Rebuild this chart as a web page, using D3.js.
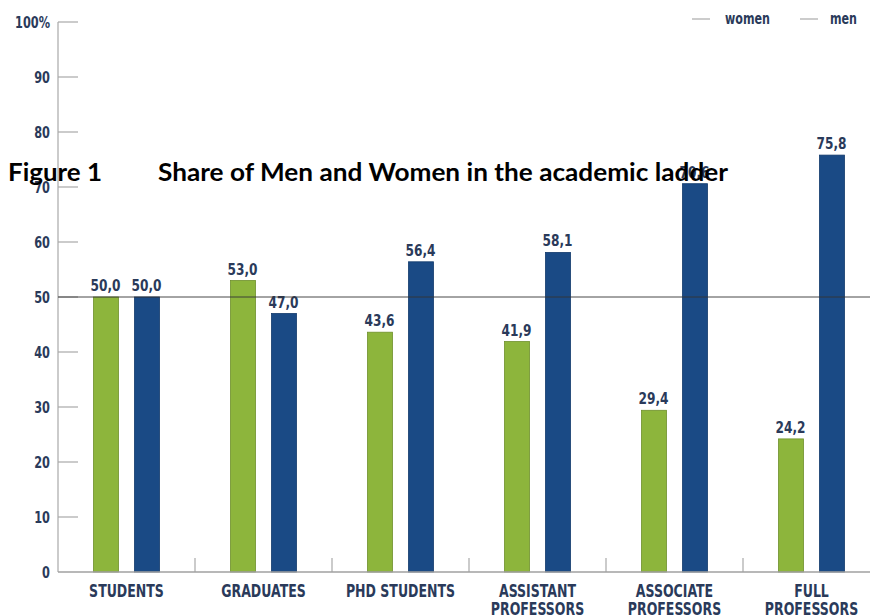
<!DOCTYPE html>
<html>
<head>
<meta charset="utf-8">
<script src="https://cdn.jsdelivr.net/npm/d3@7"></script>
<style>
  html, body { margin: 0; padding: 0; background: #fff; }
  svg { display: block; }
  .lbl { font-family: "Liberation Sans Narrow", "DejaVu Sans Condensed", "Roboto", sans-serif; font-weight: bold; fill: #2a3a5a; }
</style>
</head>
<body>
<svg id="chart" width="870" height="616"></svg>
<script>
const categories = ["STUDENTS", "GRADUATES", "PHD STUDENTS", "ASSISTANT\nPROFESSORS", "ASSOCIATE\nPROFESSORS", "FULL\nPROFESSORS"];
const women = [50.0, 53.0, 43.6, 41.9, 29.4, 24.2];
const men = [50.0, 47.0, 56.4, 58.1, 70.6, 75.8];
const yTicks = [0, 10, 20, 30, 40, 50, 60, 70, 80, 90, 100];
const seriesNames = ["women", "men"];
const colors = { women: "#8db53c", men: "#1a4a85" };
const strokes = { women: "#6e8f2b", men: "#123a6c" };
const titleLeft = "Figure 1";
const titleMain = "Share of Men and Women in the academic ladder";

const svg = d3.select("#chart");
const x0 = 58, yTop = 22, yBot = 572;
const squeeze = 0.84;

const x = d3.scaleBand().domain(d3.range(categories.length)).range([x0, x0 + 137 * 6]).paddingInner(0).paddingOuter(0);
const y = d3.scaleLinear().domain([0, 100]).range([yBot, yTop]);
const fmt = v => d3.format(".1f")(v).replace(".", ",");

// y axis line
svg.append("line").attr("x1", x0).attr("x2", x0).attr("y1", y(100)).attr("y2", y(0))
  .attr("stroke", "#a8a8a8").attr("stroke-width", 1.2);
// y ticks
yTicks.forEach(t => {
  if (t > 0) {
    svg.append("line").attr("x1", x0).attr("x2", x0 + 20).attr("y1", y(t)).attr("y2", y(t))
      .attr("stroke", "#a8a8a8").attr("stroke-width", 1.2);
  }
  svg.append("text").attr("class", "lbl")
    .attr("transform", `translate(50,${y(t) + 5.5}) scale(${squeeze},1)`)
    .attr("text-anchor", "end").attr("font-size", 15)
    .text(t === 100 ? "100%" : t);
});

// separators between categories
d3.range(1, categories.length).forEach(i => {
  const sx = x(i);
  svg.append("line").attr("x1", sx).attr("x2", sx).attr("y1", yBot - 14).attr("y2", yBot)
    .attr("stroke", "#a8a8a8").attr("stroke-width", 1.2);
});

// bars
const bw = 25;
const offsets = { women: -33, men: 8 };
const data = { women, men };
seriesNames.forEach(s => {
  const g = svg.append("g");
  g.selectAll("rect").data(data[s]).join("rect")
    .attr("x", (d, i) => x(i) + x.bandwidth() / 2 + offsets[s])
    .attr("y", d => y(d))
    .attr("width", bw)
    .attr("height", d => y(0) - y(d))
    .attr("fill", colors[s])
    .attr("stroke", strokes[s]).attr("stroke-width", 0.8);
  g.selectAll("text").data(data[s]).join("text")
    .attr("class", "lbl")
    .attr("x", (d, i) => x(i) + x.bandwidth() / 2 + offsets[s] + bw / 2 - 15.5)
    .attr("y", d => y(d) - 6)
    .attr("font-size", 16)
    .attr("textLength", 30).attr("lengthAdjust", "spacingAndGlyphs")
    .text(d => fmt(d));
});

// baseline
svg.append("line").attr("x1", x0).attr("x2", 870).attr("y1", yBot).attr("y2", yBot)
  .attr("stroke", "#a0a0a0").attr("stroke-width", 1.6);

// 50% reference line
svg.append("line").attr("x1", x0).attr("x2", 870).attr("y1", y(50)).attr("y2", y(50))
  .attr("stroke", "#333").attr("stroke-width", 0.9);

// category labels
categories.forEach((c, i) => {
  const cx = x(i) + x.bandwidth() / 2;
  const t = svg.append("text").attr("class", "lbl").attr("text-anchor", "middle").attr("font-size", 17)
    .attr("transform", `translate(${cx},597) scale(0.82,1)`);
  c.split("\n").forEach((line, k) => {
    t.append("tspan").attr("x", 0).attr("dy", k === 0 ? 0 : 18).text(line);
  });
});

// legend
const legend = [{ name: "women", lx: 692, tx: 725, w: 45 }, { name: "men", lx: 800, tx: 830, w: 27 }];
legend.forEach(l => {
  svg.append("line").attr("x1", l.lx).attr("x2", l.lx + 18).attr("y1", 19).attr("y2", 19)
    .attr("stroke", "#999").attr("stroke-width", 1);
  svg.append("text").attr("class", "lbl").attr("x", l.tx).attr("y", 24).attr("font-size", 15)
    .attr("textLength", l.w).attr("lengthAdjust", "spacingAndGlyphs").text(l.name);
});

// title overlay
svg.append("text").attr("x", 8).attr("y", 181)
  .attr("font-family", "Lato, 'Open Sans', sans-serif").attr("font-weight", "bold").attr("font-size", 25)
  .attr("fill", "#000").attr("textLength", 94).attr("lengthAdjust", "spacingAndGlyphs").text(titleLeft);
svg.append("text").attr("x", 158).attr("y", 181)
  .attr("font-family", "Lato, 'Open Sans', sans-serif").attr("font-weight", "bold").attr("font-size", 25)
  .attr("fill", "#000").attr("textLength", 570).attr("lengthAdjust", "spacingAndGlyphs").text(titleMain);
</script>
</body>
</html>
